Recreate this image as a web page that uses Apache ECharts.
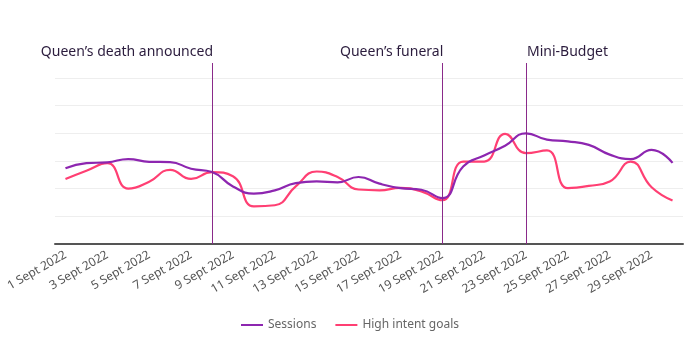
<!DOCTYPE html>
<html>
<head>
<meta charset="utf-8">
<script src="https://cdn.jsdelivr.net/npm/echarts@6/dist/echarts.min.js"></script>
<style>html,body{margin:0;padding:0;background:#fff}#c{width:700px;height:354px}</style>
</head>
<body>
<div id="c"></div>
<script>
var categories = ['1 Sept 2022','2 Sept 2022','3 Sept 2022','4 Sept 2022','5 Sept 2022','6 Sept 2022','7 Sept 2022','8 Sept 2022','9 Sept 2022','10 Sept 2022','11 Sept 2022','12 Sept 2022','13 Sept 2022','14 Sept 2022','15 Sept 2022','16 Sept 2022','17 Sept 2022','18 Sept 2022','19 Sept 2022','20 Sept 2022','21 Sept 2022','22 Sept 2022','23 Sept 2022','24 Sept 2022','25 Sept 2022','26 Sept 2022','27 Sept 2022','28 Sept 2022','29 Sept 2022','30 Sept 2022'];
var sessions = [2.74, 2.92, 2.95, 3.07, 2.97, 2.96, 2.72, 2.6, 2.08, 1.82, 1.94, 2.2, 2.26, 2.23, 2.42, 2.18, 2.02, 1.96, 1.66, 2.8, 3.2, 3.55, 4.0, 3.77, 3.71, 3.58, 3.23, 3.07, 3.4, 2.93];
var highIntent = [2.35, 2.65, 2.92, 2.0, 2.25, 2.68, 2.35, 2.6, 2.45, 1.36, 1.4, 2.08, 2.62, 2.42, 1.97, 1.94, 2.03, 1.9, 1.58, 2.98, 2.98, 3.98, 3.28, 3.38, 2.02, 2.1, 2.26, 2.98, 2.05, 1.57];
var events = [
  {index: 7, label: 'Queen\u2019s death announced', align: 'right'},
  {index: 18, label: 'Queen\u2019s funeral', align: 'right'},
  {index: 22, label: 'Mini-Budget', align: 'left'}
];

var FONT = 'Noto Sans';
var chart = echarts.init(document.getElementById('c'), null, {renderer: 'canvas'});
var markData = events.map(function (e) {
  return {
    xAxis: e.index,
    label: {
      show: true,
      formatter: e.label,
      position: 'end',
      align: e.align,
      offset: [e.align === 'right' ? 1 : 1, 0]
    }
  };
});
chart.setOption({
  animation: false,
  grid: {left: 55, right: 17, top: 63, bottom: 110},
  legend: {
    bottom: 18,
    left: 'center',
    icon: 'rect',
    itemWidth: 22,
    itemHeight: 2,
    itemGap: 19,
    textStyle: {color: '#666', fontSize: 12, fontFamily: FONT},
    data: ['Sessions', 'High intent goals']
  },
  xAxis: {
    type: 'category',
    data: categories,
    boundaryGap: true,
    axisLine: {lineStyle: {color: '#555', width: 2}},
    axisTick: {show: false},
    axisLabel: {interval: 1, rotate: 30, color: '#555', fontSize: 12, fontFamily: FONT, margin: 10},
    splitLine: {show: false}
  },
  yAxis: {
    type: 'value',
    min: 0,
    max: 6.54,
    interval: 1,
    axisLabel: {show: false},
    axisLine: {show: false},
    axisTick: {show: false},
    splitLine: {show: true, showMaxLine: false, lineStyle: {color: '#eeeeee', width: 1}}
  },
  series: [
    {
      name: 'Sessions',
      type: 'line',
      data: sessions,
      smooth: true,
      showSymbol: false,
      symbol: 'none',
      lineStyle: {color: '#8d26b0', width: 2.2},
      itemStyle: {color: '#8d26b0'},
      z: 3,
      markLine: {
        silent: true,
        symbol: ['none', 'none'],
        lineStyle: {color: '#8a2a8a', width: 1, type: 'solid'},
        label: {color: '#2b1c3d', fontSize: 14, fontFamily: FONT, distance: 4},
        data: markData
      }
    },
    {
      name: 'High intent goals',
      type: 'line',
      data: highIntent,
      smooth: true,
      showSymbol: false,
      symbol: 'none',
      lineStyle: {color: '#ff3f73', width: 2.2},
      itemStyle: {color: '#ff3f73'},
      z: 2
    }
  ]
});
</script>
</body>
</html>
